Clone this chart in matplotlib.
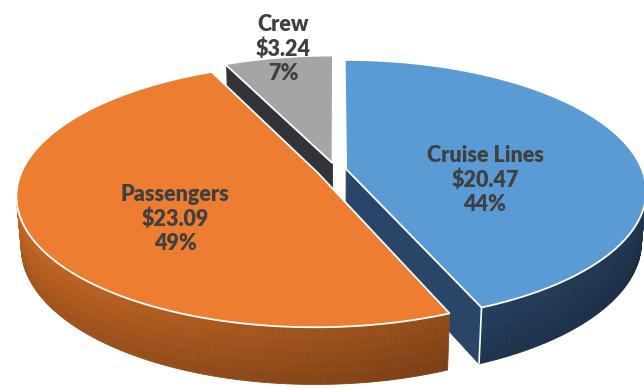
import numpy as np
import matplotlib
matplotlib.use("Agg")
import matplotlib.pyplot as plt
from matplotlib.patches import Polygon
from matplotlib.colors import to_rgb

# Cruise industry spending split ($ billions)
categories = ["Cruise Lines", "Passengers", "Crew"]
values = [20.47, 23.09, 3.24]
percent_labels = ["44%", "49%", "7%"]

top_colors = ["#5B9BD5", "#ED7D31", "#A5A5A5"]
side_colors = ["#30527A", "#BE6322", "#3A3D42"]
explode = [0.035, 0.065, 0.055]

# label anchor points in pixels (x, y centre of the 3-line block)
label_pos = [(485, 180), (175, 219), (283, 49)]

W, H = 644, 388
CX, CY = 336, 170
THICK = 0.19
ALPHA = np.radians(25.5)
DIST = 5.5
FOCAL = 296 * DIST
CAM = np.array([0.0, -DIST * np.cos(ALPHA), DIST * np.sin(ALPHA)])


def project(x, d, h):
    """World (x right, d away, h up) -> pixel coords + depth."""
    v = d * np.sin(ALPHA) + h * np.cos(ALPHA)
    w = d * np.cos(ALPHA) - h * np.sin(ALPHA)
    s = FOCAL / (DIST + w)
    return CX + x * s, CY - v * s, w


def shade(color, f):
    r, g, b = to_rgb(color)
    return (min(r * f, 1), min(g * f, 1), min(b * f, 1))


def facing(n, p, tol=0.0):
    to_cam = CAM - p
    return np.dot(n, to_cam) / np.linalg.norm(to_cam) > tol


fig = plt.figure(figsize=(W / 100, H / 100), dpi=100)
ax = fig.add_axes([0, 0, 1, 1])
ax.set_xlim(0, W)
ax.set_ylim(H, 0)
ax.axis("off")

total = sum(values)
fracs = [v / total for v in values]
starts = np.concatenate([[0], np.cumsum(fracs)[:-1]]) * 2 * np.pi
ends = np.cumsum(fracs) * 2 * np.pi

walls = []   # (depth, polygon pts, color)
tops = []
edges = []   # white vertical edges

for i, cat in enumerate(categories):
    a0, a1 = starts[i], ends[i]
    mid = (a0 + a1) / 2
    ox, od = explode[i] * np.sin(mid), explode[i] * np.cos(mid)

    def rim(t, h, r=1.0):
        return ox + r * np.sin(t), od + r * np.cos(t), h

    # top face
    ts = np.linspace(a0, a1, max(8, int((a1 - a0) * 60)))
    pts = [project(ox, od, 0)] + [project(*rim(t, 0)) for t in ts]
    tops.append((i, [(p[0], p[1]) for p in pts]))

    # outer wall, split into small shaded quads
    rows = 5
    for k in range(len(ts) - 1):
        t0, t1 = ts[k], ts[k + 1]
        tm = (t0 + t1) / 2
        n = np.array([np.sin(tm), np.cos(tm), 0.0])
        if not facing(n, np.array(rim(tm, -THICK / 2))):
            continue
        f = 0.85 + 0.2 * (-np.sin(tm))
        for r in range(rows):
            h0 = -THICK * r / rows
            h1 = -THICK * (r + 1) / rows
            quad = [project(*rim(t0, h0)), project(*rim(t1, h0)),
                    project(*rim(t1, h1)), project(*rim(t0, h1))]
            depth = np.mean([q[2] for q in quad])
            col = shade(side_colors[i], f * (1 - 0.18 * (r + 0.5) / rows))
            walls.append((depth, [(q[0], q[1]) for q in quad], col))

    # radial walls (skip the ones seen almost edge-on)
    for t, sign in ((a0, -1), (a1, 1)):
        nang = t + sign * np.pi / 2
        n = np.array([np.sin(nang), np.cos(nang), 0.0])
        if not facing(n, np.array(rim(t, -THICK / 2, 0.5)), 0.1):
            continue
        quad = [project(ox, od, 0), project(*rim(t, 0)),
                project(*rim(t, -THICK)), project(ox, od, -THICK)]
        depth = np.mean([q[2] for q in quad])
        walls.append((depth + 0.05, [(q[0], q[1]) for q in quad],
                      shade(side_colors[i], 0.85)))
        a = project(*rim(t, 0))
        b = project(*rim(t, -THICK))
        edges.append(((a[0], b[0]), (a[1], b[1])))

walls.sort(key=lambda w: -w[0])
for depth, pts, col in walls:
    ax.add_patch(Polygon(pts, closed=True, facecolor=col, edgecolor=col,
                         lw=0.6, zorder=1))
for x, y in edges:
    ax.plot(x, y, color="white", lw=1.2, zorder=2, solid_capstyle="butt")
for i, pts in tops:
    ax.add_patch(Polygon(pts, closed=True, facecolor=top_colors[i],
                         edgecolor="white", lw=1.3, zorder=3))

for i, cat in enumerate(categories):
    txt = f"{cat}\n${values[i]:.2f}\n{percent_labels[i]}"
    ax.text(label_pos[i][0], label_pos[i][1], txt, ha="center", va="center",
            fontsize=15.5, fontweight="heavy", family=["Lato", "DejaVu Sans"],
            color="#404040", linespacing=1.2, zorder=5)

fig.savefig("out.png", dpi=100)
